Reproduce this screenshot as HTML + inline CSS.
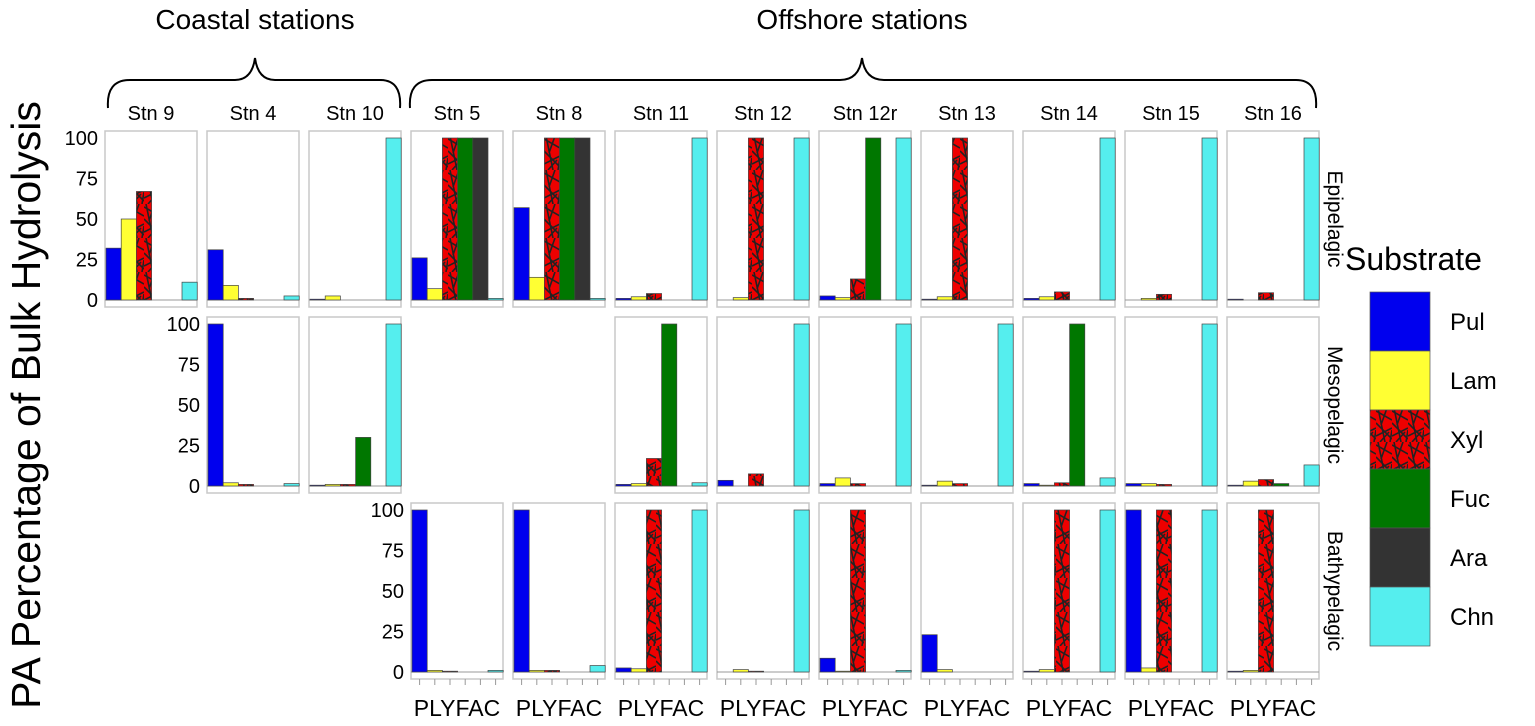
<!DOCTYPE html>
<html><head><meta charset="utf-8"><style>
body{margin:0;background:#fff;font-family:"Liberation Sans",sans-serif}
svg{display:block}
text{font-family:"Liberation Sans",sans-serif}
</style></head><body>
<svg id="chart" width="1535" height="726" xmlns="http://www.w3.org/2000/svg">
<defs>
<pattern id="xylpat" patternUnits="userSpaceOnUse" width="16" height="34">
<rect width="16" height="34" fill="#ee0000"/>
<g stroke="#222" stroke-width="1.6" fill="none">
<path d="M0 3 L16 12 M2 0 L9 34 M16 20 L0 28 M11 0 L5 17 M0 15 L16 31 M14 34 L16 22 M4 34 L13 24"/>
</g></pattern>
</defs>
<text transform="translate(40,405) rotate(-90)" text-anchor="middle" font-size="41">PA Percentage of Bulk Hydrolysis</text>
<text x="255" y="29" text-anchor="middle" font-size="28">Coastal stations</text>
<text x="862" y="29" text-anchor="middle" font-size="28">Offshore stations</text>
<path d="M108 108 Q106 80 130 80 L235 80 Q252 80 255 58 Q258 80 275 80 L380 80 Q402 80 400 108" fill="none" stroke="#000" stroke-width="2"/>
<path d="M410 108 Q408 80 432 80 L840 80 Q859 80 862 58 Q865 80 884 80 L1296 80 Q1318 80 1316 108" fill="none" stroke="#000" stroke-width="2"/>
<g id="plots"></g>
<text x="1345" y="270" font-size="32">Substrate</text>
<g id="legend"></g>
</svg>
<script>
const stations=["Stn 9","Stn 4","Stn 10","Stn 5","Stn 8","Stn 11","Stn 12","Stn 12r","Stn 13","Stn 14","Stn 15","Stn 16"];
const depths=["Epipelagic","Mesopelagic","Bathypelagic"];
const substrates=["Pul","Lam","Xyl","Fuc","Ara","Chn"];
const yTicks=[0,25,50,75,100];
const xLabels=["P","L","Y","F","A","C"];
const epi={"Stn 9":[32,50,67,0,0,11],"Stn 4":[31,9,1,0,0,2.5],"Stn 10":[0.5,2.5,0,0,0,100],"Stn 5":[26,7,100,100,100,1],"Stn 8":[57,14,100,100,100,1],"Stn 11":[1,2,4,0,0,100],"Stn 12":[0,1.5,100,0,0,100],"Stn 12r":[2.5,1.5,13,100,0,100],"Stn 13":[0.5,2,100,0,0,0],"Stn 14":[1,2,5,0,0,100],"Stn 15":[0,1,3.5,0,0,100],"Stn 16":[0.5,0,4.5,0,0,100]};
const meso={"Stn 4":[100,2,1,0,0,1.5],"Stn 10":[0.5,1,1,30,0,100],"Stn 11":[1,1.5,17,100,0,2],"Stn 12":[3.5,0,7.5,0,0,100],"Stn 12r":[1.5,5,1.5,0,0,100],"Stn 13":[0.5,3,1.5,0,0,100],"Stn 14":[1.5,0.5,2,100,0,5],"Stn 15":[1.5,1.5,1,0,0,100],"Stn 16":[0.5,3,4,1.5,0,13]};
const bathy={"Stn 5":[100,1,0.5,0,0,1],"Stn 8":[100,1,1,0,0,4],"Stn 11":[2.5,2,100,0,0,100],"Stn 12":[0,1.5,0.5,0,0,100],"Stn 12r":[8.5,0.5,100,0,0,1],"Stn 13":[23,1.5,0,0,0,0],"Stn 14":[0.5,1.5,100,0,0,100],"Stn 15":[100,2.5,100,0,0,100],"Stn 16":[0.5,1,100,0,0,0]};
const rowsData=[epi,meso,bathy];
const colors=["#0000ee","#ffff33","url(#xylpat)","#007700","#333333","#55eeee"];
const NS="http://www.w3.org/2000/svg";
const g=document.getElementById("plots");
function mk(tag,attrs,parent){const e=document.createElementNS(NS,tag);for(const k in attrs)e.setAttribute(k,attrs[k]);(parent||g).appendChild(e);return e;}
const colX=i=>105+i*102, rowY=r=>131+r*186, PW=92, PH=176;
const yS=(r,v)=>rowY(r)+169-v/100*162;
const xS=(c,k)=>colX(c)+1+k*15.2;
stations.forEach((s,c)=>{
  const t=mk("text",{x:colX(c)+PW/2,y:120,"text-anchor":"middle","font-size":"20"});
  t.textContent=s;
  
  
});
rowsData.forEach((data,r)=>{
  let first=true;
  stations.forEach((s,c)=>{
    const vals=data[s]; if(!vals) return;
    const pg=mk("g",{});
    
    
    mk("rect",{x:colX(c),y:rowY(r),width:PW,height:PH,fill:"#fff",stroke:"#c8c8c8","stroke-width":1.5},pg);
    mk("line",{x1:colX(c),x2:colX(c)+PW,y1:yS(r,0),y2:yS(r,0),stroke:"#999","stroke-width":1},pg);
    vals.forEach((v,k)=>{
      if(v<=0) return;
      const b=mk("rect",{x:xS(c,k),y:yS(r,v),width:15.2,height:yS(r,0)-yS(r,v),fill:colors[k],stroke:"#444","stroke-width":0.7},pg);
      
      
    });
    if(first){
      first=false;
      yTicks.forEach(t=>{
        const tx=mk("text",{x:colX(c)-7,y:yS(r,t)+7,"text-anchor":"end","font-size":"20"});
        tx.textContent=t;
        
        
      });
    }
    if(r===2){
      xLabels.forEach((l,k)=>{mk("line",{x1:xS(c,k)+7.6,x2:xS(c,k)+7.6,y1:rowY(r)+PH,y2:rowY(r)+PH+6,stroke:"#999"},pg);});
      const xl=mk("text",{x:colX(c)+PW/2,y:716,"text-anchor":"middle","font-size":"23"});
      xl.textContent=xLabels.join("");
      
      
    }
  });
  const st=mk("text",{transform:`translate(1328,${rowY(r)+PH/2}) rotate(90)`,"text-anchor":"middle","font-size":"21"});
  st.textContent=depths[r];
  
  
});
const lg=document.getElementById("legend");
substrates.forEach((s,k)=>{
  const y=292+k*59;
  const r=mk("rect",{x:1370,y:y,width:60,height:59,fill:colors[k],stroke:"#555","stroke-width":0.7},lg);
  
  
  const t=mk("text",{x:1450,y:y+38,"font-size":"24"},lg);
  t.textContent=s;
  
  
});
</script>
</body></html>
